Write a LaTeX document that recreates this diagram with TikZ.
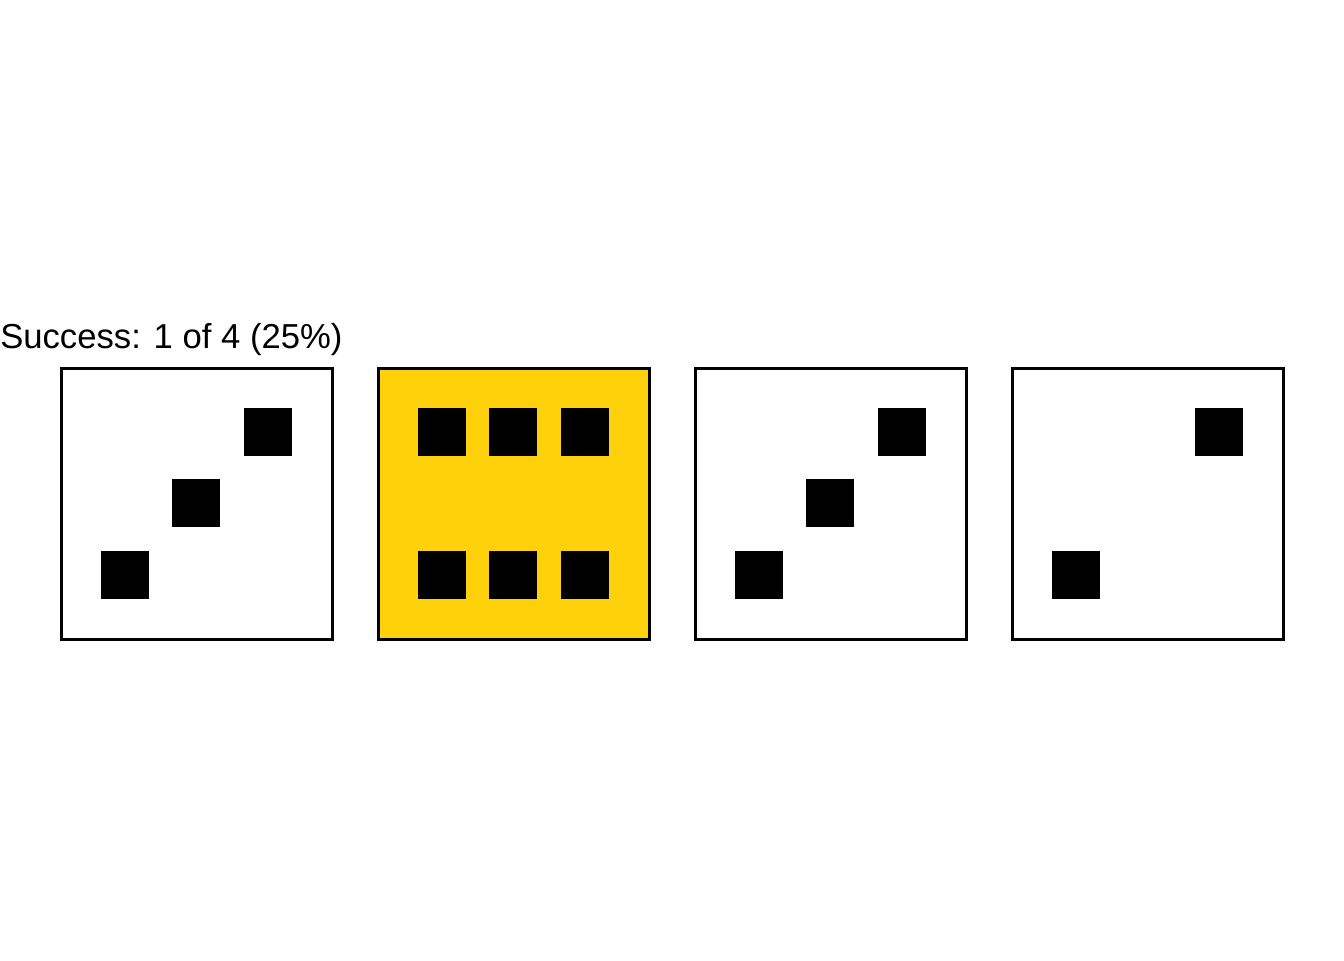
\documentclass[tikz,border=0pt]{standalone}
\usepackage{fontspec}
\setmainfont{Liberation Sans}
\definecolor{dieyellow}{RGB}{255,209,10}
\begin{document}
\begin{tikzpicture}[x=0.75pt,y=-0.75pt,
  die/.style={draw=black,line width=2.25pt,minimum size=203.25pt,inner sep=0pt,fill=white},
  pip/.style={fill=black,draw=none,minimum size=36pt,inner sep=0pt}]
\useasboundingbox (0,0) rectangle (1344,960);
\node[anchor=base west,inner sep=0pt,font=\fontsize{26}{30}\selectfont] (title) at (0,348) {Success: 1 of 4 (25\%)};
% die 1
\node[die] (d1) at (196.5,503.5) {};
\node[pip] (d1a) at (125,574.7) {};
\node[pip] (d1b) at (196.4,503.4) {};
\node[pip] (d1c) at (267.8,432.2) {};
% die 2
\node[die,fill=dieyellow] (d2) at (513.5,503.5) {};
\node[pip] (d2a) at (442,432.2) {};
\node[pip] (d2b) at (513.4,432.2) {};
\node[pip] (d2c) at (584.8,432.2) {};
\node[pip] (d2d) at (442,574.7) {};
\node[pip] (d2e) at (513.4,574.7) {};
\node[pip] (d2f) at (584.8,574.7) {};
% die 3
\node[die] (d3) at (830.5,503.5) {};
\node[pip] (d3a) at (759,574.7) {};
\node[pip] (d3b) at (830.4,503.4) {};
\node[pip] (d3c) at (901.8,432.2) {};
% die 4
\node[die] (d4) at (1147.5,503.5) {};
\node[pip] (d4a) at (1076,574.7) {};
\node[pip] (d4c) at (1218.8,432.2) {};
\end{tikzpicture}
\end{document}
